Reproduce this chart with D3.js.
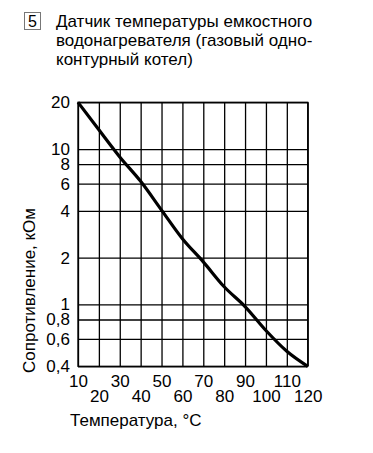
<!DOCTYPE html>
<html>
<head>
<meta charset="utf-8">
<script src="https://cdn.jsdelivr.net/npm/d3@7"></script>
<style>
  body { margin: 0; background: #fff; }
  svg { display: block; font-family: "Liberation Sans", Arial, sans-serif; }
</style>
</head>
<body>
<svg id="chart"></svg>
<script>
// Данные графика
const titleLines = ["Датчик температуры емкостного", "водонагревателя (газовый одно-", "контурный котел)"];
const temps = [10, 20, 30, 40, 50, 60, 70, 80, 90, 100, 110, 120];
const resistance = [20, 13.3, 8.9, 6.2, 4.05, 2.65, 1.88, 1.3, 0.97, 0.68, 0.5, 0.4];
const xTicks = [10, 20, 30, 40, 50, 60, 70, 80, 90, 100, 110, 120];
const yTicks = [0.4, 0.6, 0.8, 1, 2, 4, 6, 8, 10, 20];

const width = 373, height = 453;
const plotLeft = 78, plotRight = 307.7, plotTop = 102.3, plotBottom = 366.3;
const fs = "17px";

const svg = d3.select("#chart")
    .attr("width", width)
    .attr("height", height);

// Номер в рамке
svg.append("rect")
    .attr("x", 24.5).attr("y", 12.5)
    .attr("width", 16).attr("height", 17)
    .attr("fill", "none").attr("stroke", "#777").attr("stroke-width", 1);
svg.append("text")
    .attr("x", 32.5).attr("y", 26.5)
    .attr("text-anchor", "middle")
    .style("font-size", "16px")
    .text("5");

// Заголовок
svg.append("g").selectAll("text")
    .data(titleLines)
    .join("text")
    .attr("x", 56)
    .attr("y", (d, i) => 26.7 + i * 19.2)
    .style("font-size", fs)
    .text(d => d);

// Шкалы
const x = d3.scaleLinear().domain([10, 120]).range([plotLeft, plotRight]);
const y = d3.scaleLog().domain([0.4, 20]).range([plotBottom, plotTop]);

// Ось X + вертикальная сетка
const gx = svg.append("g")
    .attr("transform", `translate(0,${plotBottom})`)
    .call(d3.axisBottom(x).tickValues(xTicks).tickSize(-(plotBottom - plotTop)).tickPadding(8.3).tickFormat(d3.format("d")))
    .call(g => g.select(".domain").remove());
gx.selectAll(".tick line").attr("stroke", "#000").attr("stroke-width", 1.3);
gx.selectAll(".tick text")
    .attr("fill", "#000")
    .style("font-size", fs)
    .attr("y", (d, i) => i % 2 === 0 ? 8.3 : 24.1);
gx.attr("font-family", null).attr("font-size", null);

// Ось Y + горизонтальная сетка
const gy = svg.append("g")
    .attr("transform", `translate(${plotLeft},0)`)
    .call(d3.axisLeft(y).tickValues(yTicks).tickSize(-(plotRight - plotLeft)).tickPadding(8)
        .tickFormat(d => String(d).replace(".", ",")))
    .call(g => g.select(".domain").remove());
gy.selectAll(".tick line").attr("stroke", "#000").attr("stroke-width", 1.3);
gy.selectAll(".tick text").attr("fill", "#000").style("font-size", fs);
gy.attr("font-family", null).attr("font-size", null);

// Рамка
svg.append("rect")
    .attr("x", plotLeft).attr("y", plotTop)
    .attr("width", plotRight - plotLeft).attr("height", plotBottom - plotTop)
    .attr("fill", "none").attr("stroke", "#000").attr("stroke-width", 1.3);

// Кривая
const line = d3.line()
    .x((d, i) => x(temps[i]))
    .y(d => y(d))
    .curve(d3.curveMonotoneX);
svg.append("path")
    .datum(resistance)
    .attr("d", line)
    .attr("fill", "none")
    .attr("stroke", "#000")
    .attr("stroke-width", 3.2);

// Подписи осей
svg.append("text")
    .attr("x", 70).attr("y", 425.7)
    .style("font-size", fs)
    .text("Температура, °С");
svg.append("text")
    .attr("transform", "translate(35,373) rotate(-90)")
    .style("font-size", fs)
    .text("Сопротивление, кОм");
</script>
</body>
</html>
